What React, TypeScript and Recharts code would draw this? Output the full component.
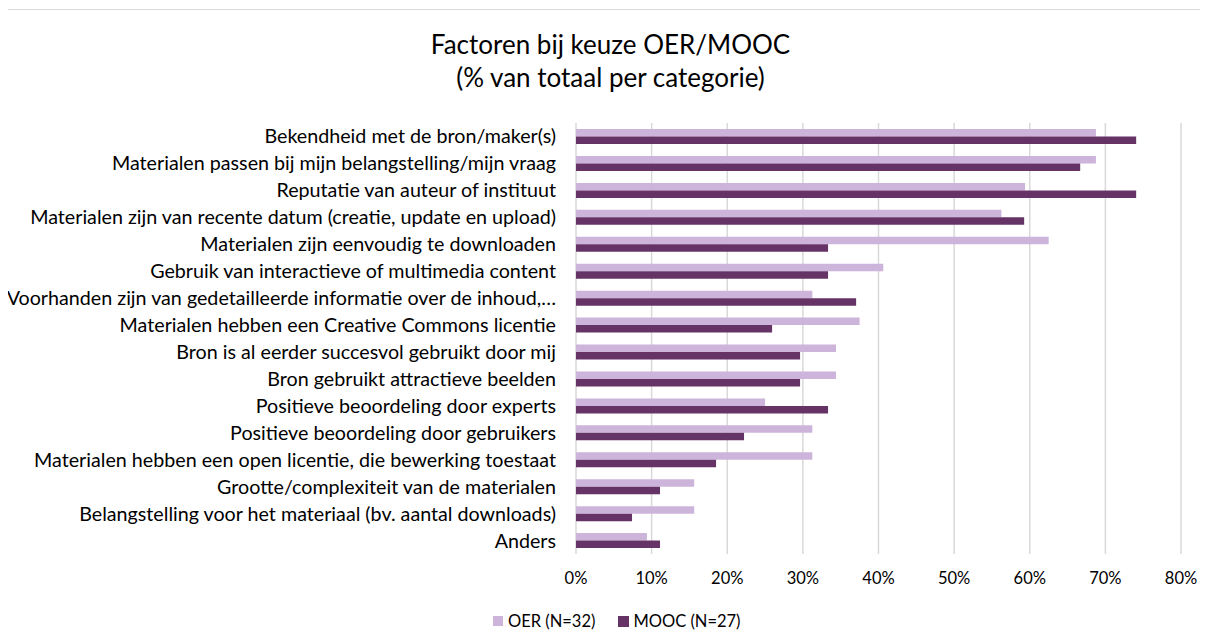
import React from "react";
import { BarChart, Bar, XAxis, YAxis, CartesianGrid } from "recharts";

const categories = [
  "Bekendheid met de bron/maker(s)",
  "Materialen passen bij mijn belangstelling/mijn vraag",
  "Reputatie van auteur of instituut",
  "Materialen zijn van recente datum (creatie, update en upload)",
  "Materialen zijn eenvoudig te downloaden",
  "Gebruik van interactieve of multimedia content",
  "Voorhanden zijn van gedetailleerde informatie over de inhoud,…",
  "Materialen hebben een Creative Commons licentie",
  "Bron is al eerder succesvol gebruikt door mij",
  "Bron gebruikt attractieve beelden",
  "Positieve beoordeling door experts",
  "Positieve beoordeling door gebruikers",
  "Materialen hebben een open licentie, die bewerking toestaat",
  "Grootte/complexiteit van de materialen",
  "Belangstelling voor het materiaal (bv. aantal downloads)",
  "Anders",
];

const oerValues = [68.75, 68.75, 59.38, 56.25, 62.5, 40.63, 31.25, 37.5, 34.38, 34.38, 25, 31.25, 31.25, 15.63, 15.63, 9.38];
const moocValues = [74.07, 66.67, 74.07, 59.26, 33.33, 33.33, 37.04, 25.93, 29.63, 29.63, 33.33, 22.22, 18.52, 11.11, 7.41, 11.11];

const xTicks = [0, 10, 20, 30, 40, 50, 60, 70, 80];
const seriesNames = ["OER (N=32)", "MOOC (N=27)"];
const titleLines = ["Factoren bij keuze OER/MOOC", "(% van totaal per categorie)"];

const OER_COLOR = "#cdb4da";
const MOOC_COLOR = "#663366";
const FONT = "Lato, 'Open Sans', sans-serif";

const data = categories.map((c, i) => ({ name: c, oer: oerValues[i], mooc: moocValues[i] }));

export default function App() {
  return (
    <div
      style={{
        position: "relative",
        width: 1205,
        height: 640,
        marginLeft: -1,
        marginTop: 1,
        borderLeft: "1px solid #d9d9d9",
        borderTop: "1px solid #d9d9d9",
        fontFamily: FONT,
        color: "#000",
        overflow: "hidden",
      }}
    >
      <div
        style={{
          position: "absolute",
          left: 0,
          width: 1205,
          top: 18,
          textAlign: "center",
          fontSize: 26,
          lineHeight: "33px",
        }}
      >
        {titleLines.map((t) => (
          <div key={t}>{t}</div>
        ))}
      </div>
      <div style={{ position: "absolute", top: 0, left: 0 }}>
        <BarChart
          width={1200}
          height={630}
          data={data}
          layout="vertical"
          margin={{ top: 113, right: 27, bottom: 56, left: 0 }}
          barGap={0}
        >
          <CartesianGrid horizontal={false} vertical={true} stroke="#d9d9d9" strokeWidth={1.5} />
          <XAxis
            type="number"
            domain={[0, 80]}
            ticks={xTicks}
            tickFormatter={(v: number) => `${v}%`}
            axisLine={false}
            tickLine={false}
            tickSize={0}
            tickMargin={18}
            height={30}
            interval={0}
            tick={{ fill: "#000", fontSize: 16.5, fontFamily: FONT }}
          />
          <YAxis
            type="category"
            dataKey="name"
            width={568}
            axisLine={false}
            tickLine={false}
            tickSize={0}
            tickMargin={20}
            interval={0}
            tick={{ fill: "#000", fontSize: 19.7, fontFamily: FONT }}
          />
          <Bar dataKey="oer" name={seriesNames[0]} fill={OER_COLOR} barSize={7.5} isAnimationActive={false} />
          <Bar dataKey="mooc" name={seriesNames[1]} fill={MOOC_COLOR} barSize={7.5} isAnimationActive={false} />
        </BarChart>
      </div>
      <div
        style={{
          position: "absolute",
          top: 601,
          left: 485,
          display: "flex",
          alignItems: "center",
          fontSize: 16.5,
          height: 20,
        }}
      >
        <span style={{ display: "inline-block", width: 10, height: 10, background: OER_COLOR, marginRight: 5 }} />
        <span style={{ marginRight: 23 }}>{seriesNames[0]}</span>
        <span style={{ display: "inline-block", width: 11, height: 11, background: MOOC_COLOR, marginRight: 4 }} />
        <span>{seriesNames[1]}</span>
      </div>
    </div>
  );
}
